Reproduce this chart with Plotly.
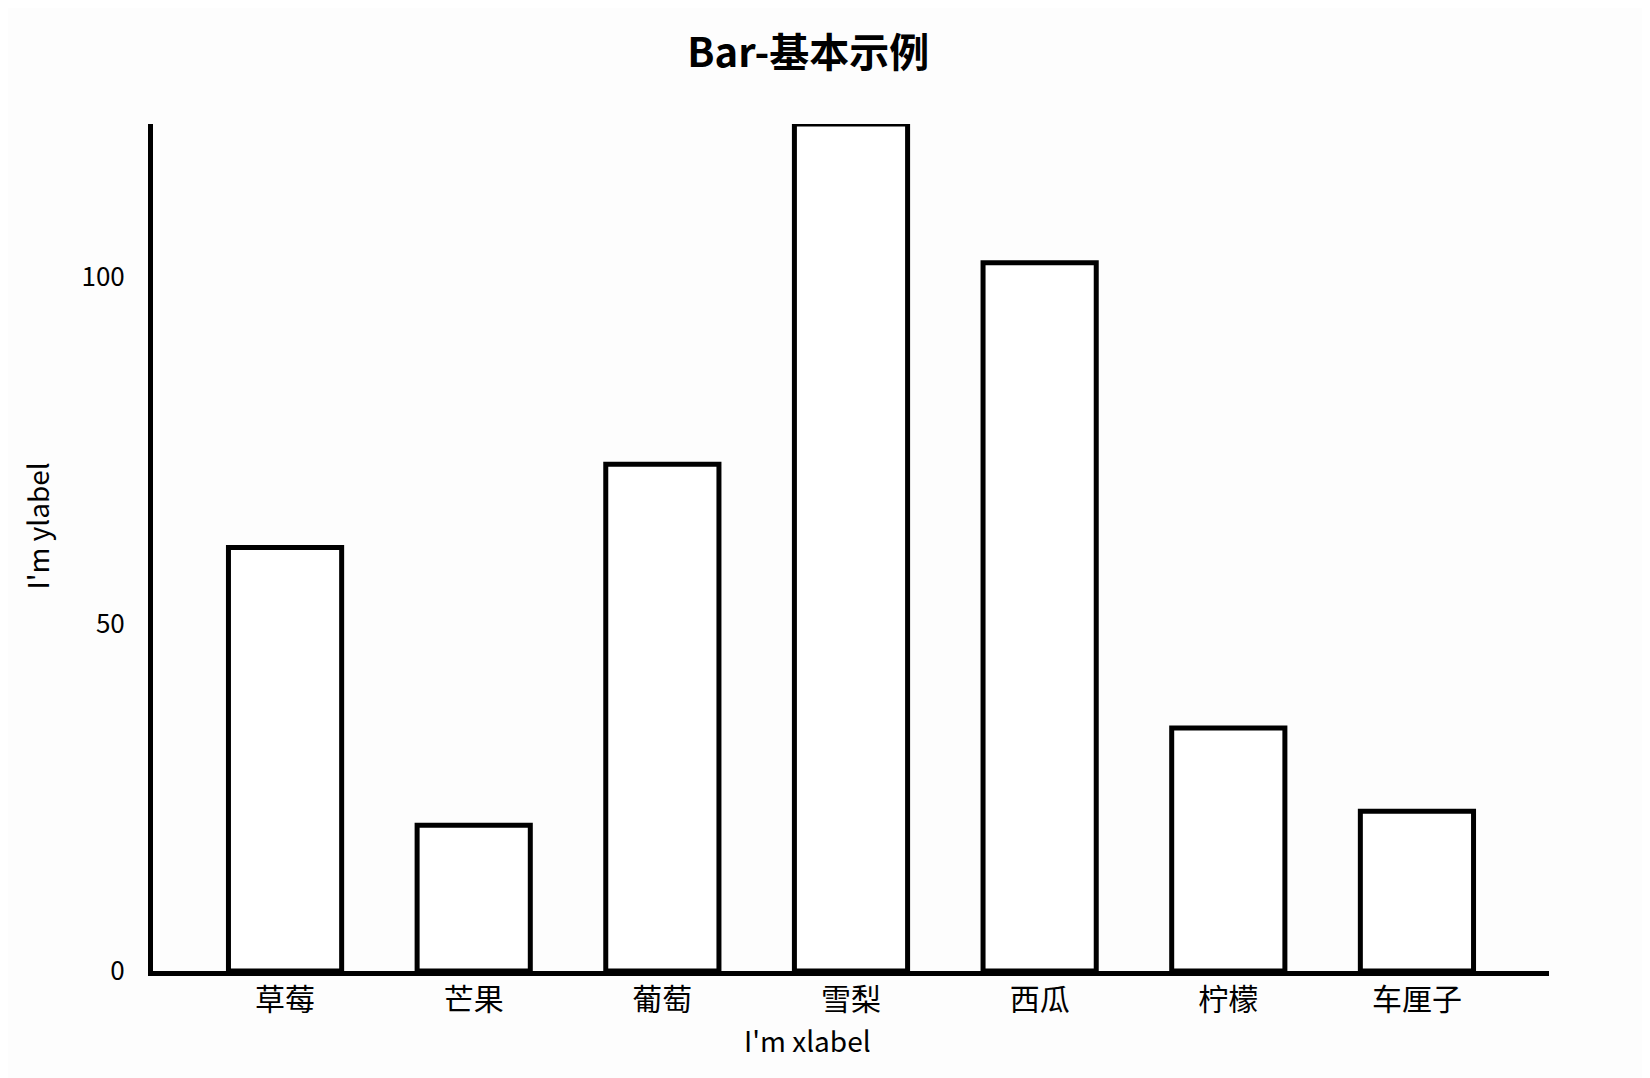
import plotly.graph_objects as go

categories = ["草莓", "芒果", "葡萄", "雪梨", "西瓜", "柠檬", "车厘子"]
values = [61, 21, 73, 122, 102, 35, 23]
y_ticks = [0, 50, 100]
title_text = "Bar-基本示例"
x_label = "I'm xlabel"
y_label = "I'm ylabel"

FONT = "Noto Sans CJK SC, Noto Sans, sans-serif"
BG = "#fdfdfd"

fig = go.Figure(
    go.Bar(
        x=categories,
        y=values,
        width=0.6,
        marker=dict(color="white", line=dict(color="black", width=5)),
        hoverinfo="x+y",
    )
)

fig.update_layout(
    width=1650,
    height=1078,
    paper_bgcolor=BG,
    plot_bgcolor=BG,
    margin=dict(l=145, r=109, t=116, b=115, autoexpand=False),
    showlegend=False,
    font=dict(family=FONT, color="black"),
    title=dict(
        text="<b>" + title_text + "</b>",
        x=0.485,
        xanchor="center",
        xref="container",
        yref="container",
        y=1 - 45 / 1078,
        yanchor="middle",
        font=dict(size=40, family=FONT, color="black"),
    ),
    xaxis=dict(
        type="category",
        range=[-0.7, len(categories) - 0.3],
        showline=True,
        linecolor="black",
        linewidth=5,
        showgrid=False,
        zeroline=False,
        ticks="",
        ticklabelstandoff=-2,
        tickfont=dict(size=30, family=FONT),
        automargin=False,
    ),
    yaxis=dict(
        range=[0, max(values)],
        showline=True,
        linecolor="black",
        linewidth=5,
        showgrid=False,
        zeroline=False,
        ticks="",
        tickvals=y_ticks,
        ticklabelstandoff=18,
        tickfont=dict(size=26, family=FONT),
        automargin=False,
    ),
    annotations=[
        dict(
            text=x_label,
            xref="paper",
            yref="paper",
            x=0.469,
            y=-0.0815,
            xanchor="center",
            yanchor="middle",
            showarrow=False,
            font=dict(size=28, family=FONT, color="black"),
        ),
        dict(
            text=y_label,
            xref="paper",
            yref="paper",
            x=-0.083,
            y=0.525,
            xanchor="center",
            yanchor="middle",
            textangle=-90,
            showarrow=False,
            font=dict(size=28, family=FONT, color="black"),
        ),
    ],
)

fig.write_html("out.html")
